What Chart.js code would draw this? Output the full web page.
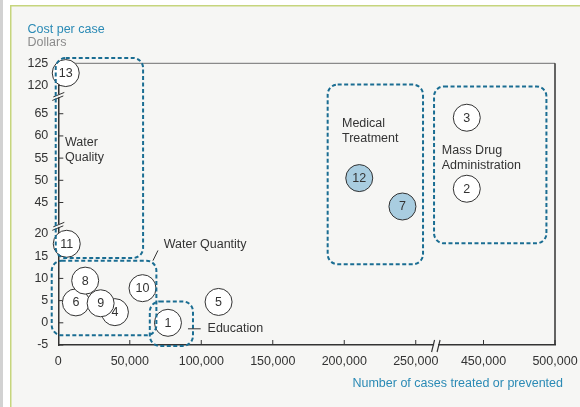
<!DOCTYPE html>
<html>
<head>
<meta charset="utf-8">
<script src="https://cdn.jsdelivr.net/npm/chart.js@4.4.1/dist/chart.umd.min.js"></script>
<style>
  html, body { margin: 0; padding: 0; background: #fff; }
  #wrap { width: 580px; height: 407px; }
</style>
</head>
<body>
<div id="wrap"><canvas id="chart" width="580" height="407"></canvas></div>
<script>
// programme numbers, in drawing order (later ones sit on top)
const programs = ["13", "11", "6", "4", "9", "8", "10", "1", "5", "12", "7", "3", "2"];
const casesTreated = [5200, 5900, 12300, 39600, 29600, 18800, 58900, 76700, 112100, 210500, 240700, 438300, 438300];
const costPerCase = [122.8, 17.8, 4.6, 2.4, 4.4, 9.5, 7.8, 0, 4.7, 50.5, 44.1, 64.1, 48.1];
const highlighted = ["12", "7"];

const xTickValues = [0, 50000, 100000, 150000, 200000, 250000, 450000, 500000];
const xTickLabels = ["0", "50,000", "100,000", "150,000", "200,000", "250,000", "450,000", "500,000"];
const yTickValues = [-5, 0, 5, 10, 15, 20, 45, 50, 55, 60, 65, 120, 125];
const yTickLabels = ["-5", "0", "5", "10", "15", "20", "45", "50", "55", "60", "65", "120", "125"];

// intervention groups (extent in data units)
const groupNames = [["Water", "Quality"], ["Water Quantity"], ["Education"], ["Medical", "Treatment"], ["Mass Drug", "Administration"]];
const groupCases = [[-1800, 59300], [-4600, 68600], [64000, 94200], [188400, 255100], [415400, 494000]];
const groupCost = [[14.6, 126.2], [-2.8, 14.0], [-5.2, 4.8], [13.2, 120.2], [17.9, 119.8]];
const groupLabelAt = [[4700, 58.4], [73700, 17.7], [104400, -1.35], [198400, 62.9], [420800, 56.6]];

const FONT = "'Liberation Sans', Arial, sans-serif";
const FS = 12.5;
const TEAL = "#2a8ab5";
const DASH = "#1a6d92";
const INK = "#333";

// broken axes: squeeze the unused ranges
const X_GAP = 47400;
function dispX(v) {
  return v <= 300000 ? v : v - 450000 + 250000 + X_GAP;
}
function dispY(v) {
  if (v <= 32) return v;
  if (v <= 90) return v - 45 + 27.1;
  return v - 120 + 53.46;
}

const points = casesTreated.map((x, i) => ({ x: dispX(x), y: dispY(costPerCase[i]) }));

function roundBox(ctx, x0, y0, x1, y1, r) {
  ctx.beginPath();
  ctx.moveTo(x0 + r, y0);
  ctx.arcTo(x1, y0, x1, y1, r);
  ctx.arcTo(x1, y1, x0, y1, r);
  ctx.arcTo(x0, y1, x0, y0, r);
  ctx.arcTo(x0, y0, x1, y0, r);
  ctx.closePath();
  ctx.stroke();
}

function line(ctx, x0, y0, x1, y1) {
  ctx.beginPath();
  ctx.moveTo(x0, y0);
  ctx.lineTo(x1, y1);
  ctx.stroke();
}

const decor = {
  id: "decor",
  beforeDraw(chart) {
    const ctx = chart.ctx;
    ctx.save();
    ctx.fillStyle = "#fff";
    ctx.fillRect(0, 0, 580, 407);
    ctx.fillStyle = "#d2d2d2";
    ctx.fillRect(0, 0, 3, 407);
    ctx.fillStyle = "#f6f6f4";
    ctx.fillRect(10, 5, 570, 402);
    ctx.fillStyle = "#c6d57d";
    ctx.fillRect(10, 5, 570, 1.5);
    ctx.fillRect(10, 5, 1.5, 402);
    ctx.restore();
  },
  beforeDatasetsDraw(chart) {
    const { ctx, chartArea: a, scales } = chart;
    const xs = scales.x, ys = scales.y;
    ctx.save();
    // frame top and right
    ctx.lineWidth = 1.2;
    ctx.strokeStyle = "#8a8a8a";
    line(ctx, a.left, a.top, a.right, a.top);
    ctx.strokeStyle = INK;
    ctx.lineWidth = 1.5;
    line(ctx, a.right, a.top, a.right, a.bottom);
    // tick marks
    ctx.lineWidth = 1;
    yTickValues.forEach(v => {
      const y = ys.getPixelForValue(dispY(v));
      line(ctx, a.left, y, a.left + 5, y);
    });
    xTickValues.forEach(v => {
      if (v === 0) return;
      const x = xs.getPixelForValue(dispX(v));
      line(ctx, x, a.bottom, x, a.bottom - 5);
    });
    // break marks on y axis
    const yBreaks = [
      ys.getPixelForValue(dispY(120)) + 0.37 * (ys.getPixelForValue(dispY(65)) - ys.getPixelForValue(dispY(120))),
      ys.getPixelForValue(dispY(45)) + 0.74 * (ys.getPixelForValue(dispY(20)) - ys.getPixelForValue(dispY(45)))
    ];
    yBreaks.forEach(y => {
      ctx.fillStyle = "#f6f6f4";
      ctx.fillRect(a.left - 2, y - 1.5, 4, 3);
      ctx.strokeStyle = INK;
      ctx.lineWidth = 1;
      line(ctx, a.left - 5, y + 1, a.left + 6, y - 3.5);
      line(ctx, a.left - 6, y + 4.5, a.left + 5, y);
    });
    // break mark on x axis
    const xb = xs.getPixelForValue(dispX(250000)) + 0.3 * (xs.getPixelForValue(dispX(450000)) - xs.getPixelForValue(dispX(250000)));
    ctx.fillStyle = "#f6f6f4";
    ctx.fillRect(xb - 2, a.bottom - 2, 4, 4);
    ctx.strokeStyle = INK;
    ctx.lineWidth = 1.2;
    line(ctx, xb - 4.5, a.bottom + 7, xb - 1.5, a.bottom - 5);
    line(ctx, xb + 1, a.bottom + 7, xb + 4, a.bottom - 5);
    // axis titles
    ctx.font = FS + "px " + FONT;
    ctx.textBaseline = "middle";
    ctx.textAlign = "left";
    ctx.fillStyle = TEAL;
    ctx.fillText("Cost per case", 27.5, 30);
    ctx.fillStyle = "#8c8c8c";
    ctx.fillText("Dollars", 27.5, 43);
    ctx.fillStyle = TEAL;
    ctx.textAlign = "right";
    ctx.fillText("Number of cases treated or prevented", 563, 384);
    ctx.restore();
  },
  afterDatasetsDraw(chart) {
    const { ctx, scales } = chart;
    const xs = scales.x, ys = scales.y;
    const px = v => xs.getPixelForValue(dispX(v));
    const py = v => ys.getPixelForValue(dispY(v));
    ctx.save();
    // bubble numbers
    ctx.font = FS + "px " + FONT;
    ctx.fillStyle = INK;
    ctx.textAlign = "center";
    ctx.textBaseline = "middle";
    const meta = chart.getDatasetMeta(0);
    meta.data.forEach((el, i) => ctx.fillText(programs[i], el.x, el.y + 0.5));
    // dashed group boxes
    ctx.strokeStyle = DASH;
    ctx.lineWidth = 2;
    ctx.setLineDash([4, 2.5]);
    groupCases.forEach((gx, i) => {
      const gy = groupCost[i];
      roundBox(ctx, px(gx[0]), py(gy[1]), px(gx[1]), py(gy[0]), 10);
    });
    ctx.setLineDash([]);
    // group labels
    ctx.textAlign = "left";
    ctx.fillStyle = INK;
    groupNames.forEach((lines, i) => {
      const [lx, ly] = groupLabelAt[i];
      lines.forEach((t, j) => ctx.fillText(t, px(lx), py(ly) + j * 15));
    });
    // leader lines
    ctx.strokeStyle = INK;
    ctx.lineWidth = 1;
    line(ctx, px(66200), py(14.0), px(69700), py(16.3));
    line(ctx, px(90700), py(-1.35), px(99600), py(-1.35));
    ctx.restore();
  }
};

new Chart(document.getElementById("chart"), {
  type: "scatter",
  data: {
    datasets: [{
      data: points,
      clip: false,
      pointRadius: 13.5,
      pointHoverRadius: 13.5,
      pointBorderWidth: 1,
      pointBorderColor: "#333",
      pointBackgroundColor: programs.map(p => highlighted.includes(p) ? "#a9cde0" : "#fff")
    }]
  },
  options: {
    responsive: false,
    animation: false,
    events: [],
    layout: { padding: { left: 0, top: 63.3, right: 25, bottom: 0 } },
    plugins: { legend: { display: false }, tooltip: { enabled: false } },
    scales: {
      x: {
        type: "linear",
        min: dispX(0),
        max: dispX(500000),
        afterBuildTicks: s => { s.ticks = xTickValues.map(v => ({ value: dispX(v) })); },
        afterFit: s => { s.height = 62; s.paddingLeft = 0; s.paddingRight = 0; },
        grid: { display: false, drawTicks: false },
        border: { display: true, color: INK, width: 1.5 },
        ticks: {
          autoSkip: false, maxRotation: 0, padding: 9, color: INK,
          font: { size: FS, family: FONT },
          callback: (v, i) => xTickLabels[i]
        }
      },
      y: {
        type: "linear",
        min: dispY(-5),
        max: dispY(125),
        afterBuildTicks: s => { s.ticks = yTickValues.map(v => ({ value: dispY(v) })); },
        afterFit: s => { s.width = 58.3; s.paddingTop = 0; s.paddingBottom = 0; },
        grid: { display: false, drawTicks: false },
        border: { display: true, color: INK, width: 1.5 },
        ticks: {
          autoSkip: false, padding: 10, color: INK,
          font: { size: FS, family: FONT },
          callback: (v, i) => yTickLabels[i]
        }
      }
    }
  },
  plugins: [decor]
});
</script>
</body>
</html>
